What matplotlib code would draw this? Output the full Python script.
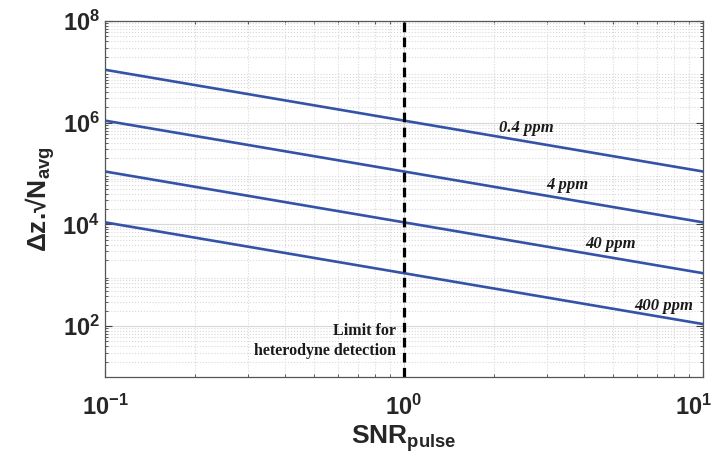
import numpy as np
import matplotlib
matplotlib.use("Agg")
import matplotlib.pyplot as plt
from matplotlib.transforms import ScaledTranslation

# data (log-log, slope -1)
snr = [0.1, 1, 10]
conc_labels = ["0.4 ppm", "4 ppm", "40 ppm", "400 ppm"]
dz_values = [
    [1.1e7, 1.1e6, 1.1e5],
    [1.1e6, 1.1e5, 1.1e4],
    [1.1e5, 1.1e4, 1.1e3],
    [1.1e4, 1.1e3, 1.1e2],
]
label_x = [2.56, 3.53, 4.89, 7.41]
label_y = [7.9e5, 6.0e4, 4.1e3, 2.5e2]
limit_snr = 1.0

plt.rcParams["font.family"] = ["Liberation Sans", "DejaVu Sans"]
plt.rcParams["font.weight"] = "bold"
plt.rcParams["axes.labelweight"] = "bold"
plt.rcParams["axes.unicode_minus"] = False
plt.rcParams["mathtext.fontset"] = "custom"
plt.rcParams["mathtext.rm"] = "Liberation Sans:bold"
plt.rcParams["mathtext.it"] = "Liberation Sans:bold"
plt.rcParams["mathtext.bf"] = "Liberation Sans:bold"

fig = plt.figure(figsize=(7.17, 4.67), dpi=100)
ax = fig.add_axes([0.1464, 0.1927, 0.834, 0.7623])

line_color = "#3452a8"
for vals in dz_values:
    ax.plot(snr, vals, color=line_color, lw=1.9)

ax.axvline(limit_snr, color="black", lw=2.3, ls=(0, (3, 1.7)))

ax.set_xscale("log")
ax.set_yscale("log")
ax.set_xlim(0.1, 10)
ax.set_ylim(10, 1e8)
ax.set_yticks([1e2, 1e4, 1e6, 1e8])
ax.set_xticks([0.1, 1, 10])
ax.yaxis.set_minor_locator(matplotlib.ticker.LogLocator(base=10, subs=np.arange(2, 10), numticks=20))
ax.yaxis.set_minor_formatter(matplotlib.ticker.NullFormatter())

ax.grid(which="major", color="#d8d8d8", lw=0.8, ls="-")
ax.grid(which="minor", color="#d8d8d8", lw=0.8, ls=":")
ax.set_axisbelow(True)

ax.tick_params(which="both", direction="in", top=True, right=True, colors="#404040")
ax.tick_params(which="major", length=5, labelsize=17, labelcolor="#262626")
ax.tick_params(which="minor", length=2.5)
ax.tick_params(axis="x", which="major", pad=13)
for s in ax.spines.values():
    s.set_color("#555555")
    s.set_linewidth(0.9)

# keep the last x tick label inside the canvas
fig.canvas.draw()
last = ax.get_xticklabels()[-1]
last.set_transform(last.get_transform() + ScaledTranslation(-7 / 72, 0, fig.dpi_scale_trans))

for txt, x, y in zip(conc_labels, label_x, label_y):
    ax.text(x, y, txt, ha="center", va="center", fontsize=12,
            family="Liberation Serif", style="italic", weight="bold", color="#1a1a1a")

ax.text(0.94, 51, "Limit for\nheterodyne detection", ha="right", va="center",
        multialignment="right", fontsize=11.5, family="Liberation Serif",
        weight="bold", color="#1a1a1a", linespacing=1.3)

ax.set_xlabel(r"SNR$_{\mathregular{pulse}}$", fontsize=19, color="#262626", labelpad=2)
ax.set_ylabel(r"Δz.√N$_{\mathregular{avg}}$", fontsize=19, color="#262626", labelpad=4)

fig.savefig("out.png", dpi=100)
